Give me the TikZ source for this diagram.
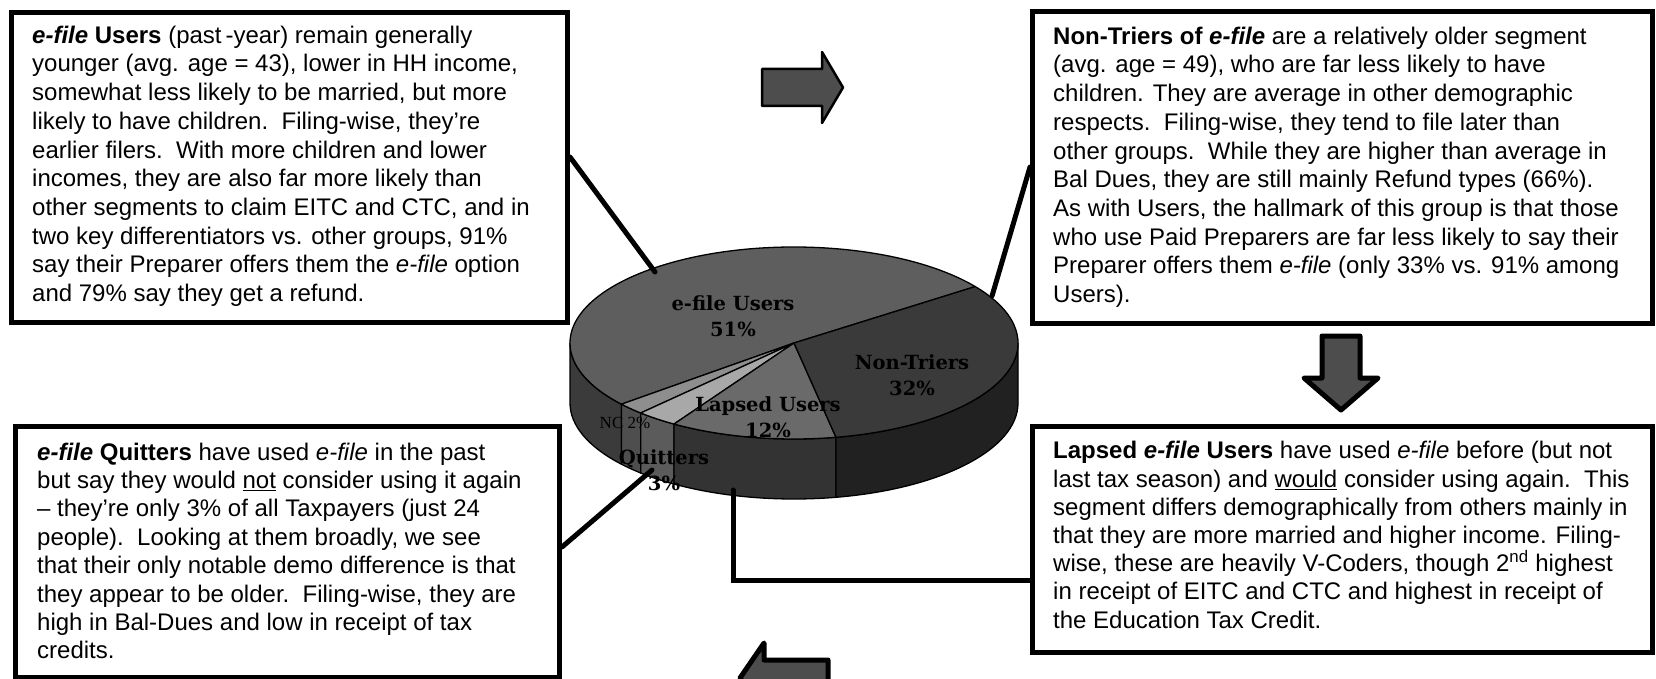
\documentclass[tikz,border=0pt]{standalone}
\usepackage{fontspec}
\setmainfont{Liberation Sans}
\newfontfamily\piefont{DejaVu Serif}
\newfontfamily\ncfont{Liberation Serif}
\usetikzlibrary{calc}
\definecolor{arrowfill}{HTML}{4D4D4D}
\definecolor{tE}{HTML}{5E5E5E}
\definecolor{tN}{HTML}{8E8E8E}
\definecolor{tQ}{HTML}{A8A8A8}
\definecolor{tL}{HTML}{6A6A6A}
\definecolor{tT}{HTML}{3A3A3A}
\definecolor{sE}{HTML}{3B3B3B}
\definecolor{sN}{HTML}{4E4E4E}
\definecolor{sQ}{HTML}{5B5B5B}
\definecolor{sL}{HTML}{333333}
\definecolor{sT}{HTML}{212121}
\newcommand\pieside[3]{\filldraw[fill=#3, pieline] (#1:224 and 96) arc[start angle=#1, end angle=#2, x radius=224, y radius=96] -- ++(0,-60) arc[start angle=#2, end angle=#1, x radius=224, y radius=96] -- cycle;}
\newcommand\pietop[3]{\filldraw[fill=#3, pieline] (0,0) -- (#1:224 and 96) arc[start angle=#1, end angle=#2, x radius=224, y radius=96] -- cycle;}
\tikzset{
  box/.style={draw, fill=white, line width=5pt, anchor=north west, inner sep=0pt},
  txt/.style={anchor=north west, inner sep=0pt, align=left, font=\fontsize{24}{28.7}\selectfont},
  txtc/.style={anchor=north west, inner sep=0pt, align=left, font=\fontsize{24}{28.4}\selectfont},
  txtb/.style={anchor=north west, inner sep=0pt, align=left, font=\fontsize{24}{28.2}\selectfont},
  conn/.style={line width=5pt, line cap=round},
  bigarrow/.style={fill=arrowfill, draw=black, line width=5pt, line join=round},
  pieline/.style={draw=black, line width=1.3pt, line join=round},
  plab/.style={font=\piefont\bfseries\fontsize{19.5}{26}\selectfont, align=center, inner sep=0pt},
  nclab/.style={font=\ncfont\fontsize{17}{20}\selectfont, inner sep=0pt, text=black},
}
\begin{document}
\begin{tikzpicture}[x=1pt, y=-1pt]
\useasboundingbox (0,0) rectangle (1656,679);
\clip (0,0) rectangle (1656,679);
\fill[white] (0,0) rectangle (1656,679);

% boxes
\node[box, minimum width=556, minimum height=310] (box1) at (9,10) {};
\node[box, minimum width=620, minimum height=312] (box2) at (1030,9) {};
\node[box, minimum width=544, minimum height=251] (box3) at (13,424) {};
\node[box, minimum width=620, minimum height=226] (box4) at (1030,424) {};

% pie
\begin{scope}[shift={(794,343)}, y=1pt]
  \pieside{180}{219.6}{sE}
  \pieside{219.6}{226.8}{sN}
  \pieside{226.8}{237.6}{sQ}
  \pieside{237.6}{280.8}{sL}
  \pieside{280.8}{360}{sT}
  \pietop{36}{219.6}{tE}
  \pietop{219.6}{226.8}{tN}
  \pietop{226.8}{237.6}{tQ}
  \pietop{237.6}{280.8}{tL}
  \pietop{280.8}{396}{tT}
\end{scope}

\node[plab] (le) at (733,316) {e-file Users\\51\%};
\node[plab] (ln) at (912,375) {Non-Triers\\32\%};
\node[plab] (ll) at (768,417) {Lapsed Users\\12\%};
\node[nclab] (lnc) at (625,423) {NC 2\%};
\node[plab] (lq) at (664,470) {Quitters\\3\%};

% connectors
\coordinate (pE) at (655,272);
\coordinate (pN) at (992,296);
\coordinate (pQ) at (652,470);
\coordinate (pL) at (733,490);
\coordinate (y1) at (0,157);
\coordinate (y2) at (0,167);
\coordinate (y3) at (0,547);
\coordinate (y4) at (0,580);
\draw[conn] (box1.east |- y1) -- (pE);
\draw[conn] (box2.west |- y2) -- (pN);
\draw[conn] (box3.east |- y3) -- (pQ);
\draw[conn] (box4.west |- y4) -| (pL);

% block arrows
\draw[bigarrow, line width=2.5pt] (762,69) -- (822,69) -- (822,52) -- (843,87.5) -- (822,123) -- (822,106) -- (762,106) -- cycle;
\draw[bigarrow] (1322,336) -- (1360,336) -- (1360,378) -- (1378,378) -- (1341,410) -- (1304,378) -- (1322,378) -- cycle;
\draw[bigarrow] (828,660) -- (764,660) -- (764,643) -- (740,678) -- (764,713) -- (764,696) -- (828,696) -- cycle;

% texts
\node[txt] (t1) at (32,23) {\strut\textbf{\textit{e-file} Users} (past\,-year) remain generally\\
younger (avg. age = 43), lower in HH income,\\
somewhat less likely to be married, but more\\
likely to have children.\ \ Filing-wise, they’re\\
earlier filers.\ \ With more children and lower\\
incomes, they are also far more likely than\\
other segments to claim EITC and CTC, and in\\
two key differentiators vs. other groups, 91\%\\
say their Preparer offers them the \textit{e-file} option\\
and 79\% say they get a refund.};

\node[txt] (t2) at (1053,24) {\strut\textbf{Non-Triers of \textit{e-file}} are a relatively older segment\\
(avg. age = 49), who are far less likely to have\\
children. They are average in other demographic\\
respects.\ \ Filing-wise, they tend to file later than\\
other groups.\ \ While they are higher than average in\\
Bal Dues, they are still mainly Refund types (66\%).\\
As with Users, the hallmark of this group is that those\\
who use Paid Preparers are far less likely to say their\\
Preparer offers them \textit{e-file} (only 33\% vs. 91\% among\\
Users).};

\node[txtc] (t3) at (37,440) {\strut\textbf{\textit{e-file} Quitters} have used \textit{e-file} in the past\\
but say they would \underline{not} consider using it again\\
– they’re only 3\% of all Taxpayers (just 24\\
people).\ \ Looking at them broadly, we see\\
that their only notable demo difference is that\\
they appear to be older.\ \ Filing-wise, they are\\
high in Bal-Dues and low in receipt of tax\\
credits.};

\node[txtb] (t4) at (1053,439) {\strut\textbf{Lapsed \textit{e-file} Users} have used \textit{e-file} before (but not\\
last tax season) and \underline{would} consider using again.\ \ This\\
segment differs demographically from others mainly in\\
that they are more married and higher income. Filing-\\
wise, these are heavily V-Coders, though 2\textsuperscript{nd} highest\\
in receipt of EITC and CTC and highest in receipt of\\
the Education Tax Credit.};
\end{tikzpicture}
\end{document}
